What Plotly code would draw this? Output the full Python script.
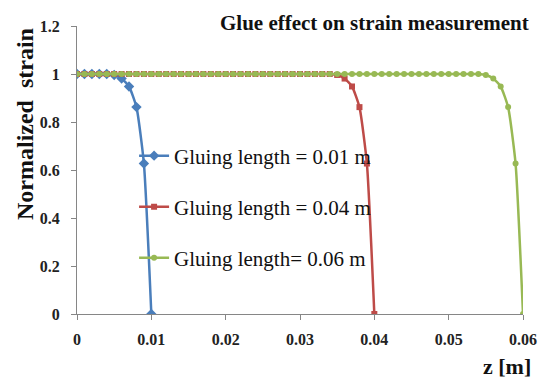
import plotly.graph_objects as go

# ---- data ----
z_01 = [0.000, 0.001, 0.002, 0.003, 0.004, 0.005, 0.006, 0.007, 0.008, 0.009, 0.010]
s_01 = [1, 1, 1, 1, 1, 0.996, 0.981, 0.948, 0.862, 0.627, 0]

z_04 = [0.000, 0.001, 0.002, 0.003, 0.004, 0.005, 0.006, 0.007, 0.008, 0.009,
        0.010, 0.011, 0.012, 0.013, 0.014, 0.015, 0.016, 0.017, 0.018, 0.019,
        0.020, 0.021, 0.022, 0.023, 0.024, 0.025, 0.026, 0.027, 0.028, 0.029,
        0.030, 0.031, 0.032, 0.033, 0.034, 0.035, 0.036, 0.037, 0.038, 0.039,
        0.040]
s_04 = [1, 1, 1, 1, 1, 1, 1, 1, 1, 1,
        1, 1, 1, 1, 1, 1, 1, 1, 1, 1,
        1, 1, 1, 1, 1, 1, 1, 1, 1, 1,
        1, 1, 1, 1, 1, 0.996, 0.981, 0.948, 0.862, 0.627,
        0]

z_06 = [0.000, 0.001, 0.002, 0.003, 0.004, 0.005, 0.006, 0.007, 0.008, 0.009,
        0.010, 0.011, 0.012, 0.013, 0.014, 0.015, 0.016, 0.017, 0.018, 0.019,
        0.020, 0.021, 0.022, 0.023, 0.024, 0.025, 0.026, 0.027, 0.028, 0.029,
        0.030, 0.031, 0.032, 0.033, 0.034, 0.035, 0.036, 0.037, 0.038, 0.039,
        0.040, 0.041, 0.042, 0.043, 0.044, 0.045, 0.046, 0.047, 0.048, 0.049,
        0.050, 0.051, 0.052, 0.053, 0.054, 0.055, 0.056, 0.057, 0.058, 0.059,
        0.060]
s_06 = [1, 1, 1, 1, 1, 1, 1, 1, 1, 1,
        1, 1, 1, 1, 1, 1, 1, 1, 1, 1,
        1, 1, 1, 1, 1, 1, 1, 1, 1, 1,
        1, 1, 1, 1, 1, 1, 1, 1, 1, 1,
        1, 1, 1, 1, 1, 1, 1, 1, 1, 1,
        1, 1, 1, 1, 1, 0.996, 0.981, 0.948, 0.862, 0.627,
        0]

names = ["Gluing length = 0.01 m", "Gluing length = 0.04 m", "Gluing length= 0.06 m"]
colors = ["#4A7EBB", "#BE4B48", "#98B954"]

x_ticks = [0, 0.01, 0.02, 0.03, 0.04, 0.05, 0.06]
x_ticktext = ["0", "0.01", "0.02", "0.03", "0.04", "0.05", "0.06"]
y_ticks = [0, 0.2, 0.4, 0.6, 0.8, 1.0, 1.2]
y_ticktext = ["0", "0.2", "0.4", "0.6", "0.8", "1", "1.2"]

SERIF = "Liberation Serif, Times New Roman, serif"

fig = go.Figure()
fig.add_trace(go.Scatter(x=z_01, y=s_01, name=names[0], mode="lines+markers",
                         line=dict(color=colors[0], width=2.5, shape="spline", smoothing=0.5),
                         marker=dict(symbol="diamond", size=8, color=colors[0]),
                         legend="legend"))
fig.add_trace(go.Scatter(x=z_04, y=s_04, name=names[1], mode="lines+markers",
                         line=dict(color=colors[1], width=2.5, shape="spline", smoothing=0.5),
                         marker=dict(symbol="square", size=6, color=colors[1]),
                         legend="legend2"))
fig.add_trace(go.Scatter(x=z_06, y=s_06, name=names[2], mode="lines+markers",
                         line=dict(color=colors[2], width=2.5, shape="spline", smoothing=0.5),
                         marker=dict(symbol="circle", size=6, color=colors[2]),
                         legend="legend3"))

leg_common = dict(xanchor="left", yanchor="middle", bgcolor="rgba(0,0,0,0)",
                  font=dict(family=SERIF, size=21, color="#111111"),
                  itemwidth=30)

fig.update_layout(
    width=550, height=385,
    margin=dict(l=77, r=27, t=26, b=71, autoexpand=False),
    paper_bgcolor="white", plot_bgcolor="white",
    showlegend=True,
    legend=dict(x=0.128, y=(314 - 156) / 288, **leg_common),
    legend2=dict(x=0.128, y=(314 - 207) / 288, **leg_common),
    legend3=dict(x=0.128, y=(314 - 258) / 288, **leg_common),
    xaxis=dict(range=[0, 0.06], tickvals=x_ticks, ticktext=x_ticktext, automargin=False,
               showgrid=False, zeroline=False, showline=True, linecolor="#868686", linewidth=1,
               ticks="outside", ticklen=5, tickcolor="#868686",
               tickfont=dict(family=SERIF, size=16, color="#222222", weight="bold"),
               ticklabelstandoff=6),
    yaxis=dict(range=[0, 1.2], tickvals=y_ticks, ticktext=y_ticktext, automargin=False,
               showgrid=False, zeroline=False, showline=True, linecolor="#868686", linewidth=1,
               ticks="outside", ticklen=5, tickcolor="#868686",
               tickfont=dict(family=SERIF, size=16, color="#222222", weight="bold"),
               ticklabelstandoff=8),
    annotations=[
        dict(text="Glue effect on strain measurement", xref="paper", yref="paper",
             x=(531 - 77) / 446, y=(314 - 23) / 288, xanchor="right", yanchor="middle",
             showarrow=False,
             font=dict(family=SERIF, size=21, color="#111111", weight="bold")),
        dict(text="Normalized  strain", xref="paper", yref="paper",
             x=(25 - 77) / 446, y=(314 - 124) / 288, xanchor="center", yanchor="middle",
             textangle=-90, showarrow=False,
             font=dict(family=SERIF, size=24, color="#111111", weight="bold")),
        dict(text="z [m]", xref="paper", yref="paper",
             x=(533 - 77) / 446, y=(314 - 366) / 288, xanchor="right", yanchor="middle",
             showarrow=False,
             font=dict(family=SERIF, size=22, color="#111111", weight="bold")),
    ],
)

fig.write_html("out.html", config={"displayModeBar": False},
               post_script="document.body.style.margin='0';document.body.style.padding='0';")
